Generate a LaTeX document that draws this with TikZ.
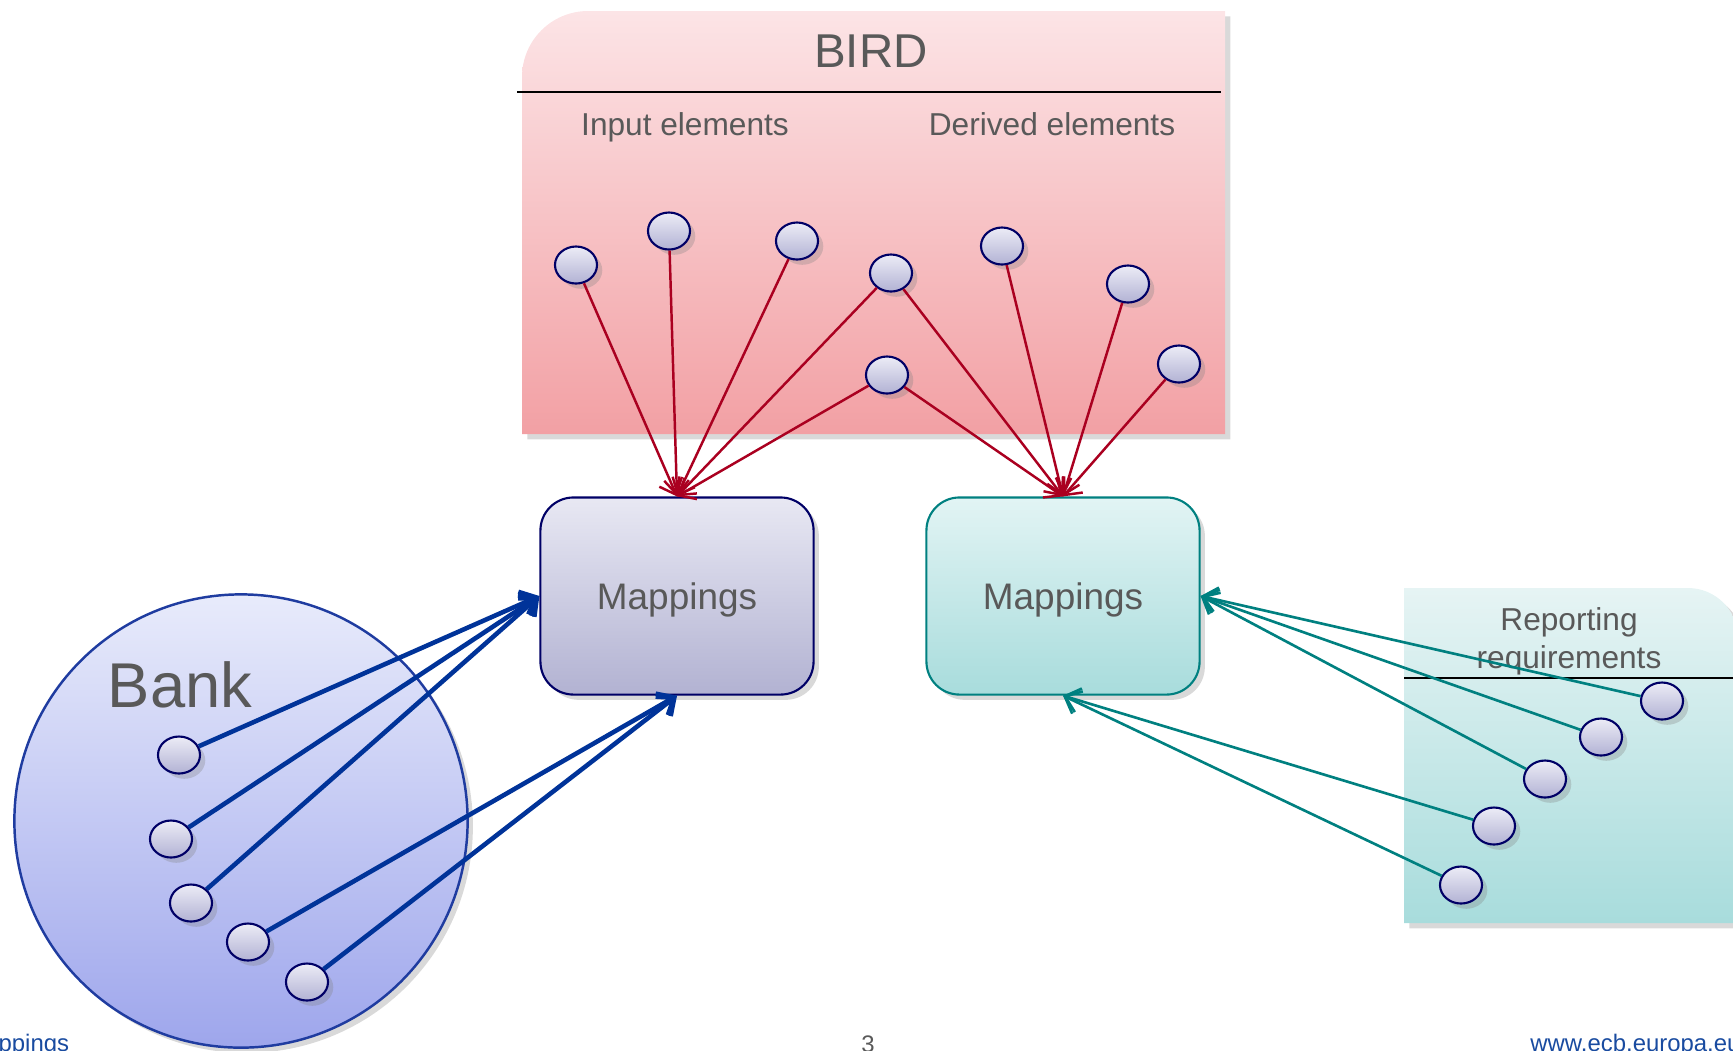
\documentclass[tikz,border=0pt]{standalone}
\usepackage{fontspec}
\setmainfont{Liberation Sans}
\usetikzlibrary{arrows.meta,shadows,shapes.geometric}

\definecolor{navy}{RGB}{0,0,102}
\definecolor{txtgray}{RGB}{89,89,89}
\definecolor{ecbblue}{RGB}{25,75,160}
\definecolor{birdtop}{RGB}{252,228,230}
\definecolor{birdbot}{RGB}{242,160,164}
\definecolor{reptop}{RGB}{230,244,244}
\definecolor{repbot}{RGB}{168,220,220}
\definecolor{elemtop}{RGB}{236,236,246}
\definecolor{elembot}{RGB}{178,178,212}
\definecolor{banktop}{RGB}{232,235,251}
\definecolor{bankbot}{RGB}{158,166,236}
\definecolor{bankline}{RGB}{31,60,160}
\definecolor{redline}{RGB}{170,0,32}
\definecolor{blueline}{RGB}{0,51,153}
\definecolor{tealline}{RGB}{0,128,128}
\definecolor{maptop}{RGB}{232,232,243}
\definecolor{mapbot}{RGB}{178,178,210}
\definecolor{map2top}{RGB}{226,244,244}
\definecolor{map2bot}{RGB}{168,220,220}

\tikzset{
  softshadow/.style={drop shadow={opacity=0.3,shadow xshift=1.5pt,shadow yshift=-1.5pt}},
  elem/.style={ellipse,draw=navy,line width=0.6pt,top color=elemtop,bottom color=elembot,
    minimum width=0.42cm,minimum height=0.37cm,inner sep=0pt,softshadow},
  mapbox/.style={rectangle,rounded corners=0.33cm,line width=0.6pt,minimum width=2.73cm,
    minimum height=1.97cm,text=txtgray,text depth=0pt,font=\fontsize{10.5}{12}\selectfont,softshadow},
  sublabel/.style={text=txtgray,font=\fontsize{9}{10.7}\selectfont},
  footlabel/.style={font=\fontsize{6.8}{8}\selectfont},
  redarrow/.style={draw=redline,line width=0.7pt,-{Straight Barb[length=4pt,width=7pt]}},
  bluearrow/.style={draw=blueline,line width=1.3pt,-{Straight Barb[length=4pt,width=7pt]}},
  tealarrow/.style={draw=tealline,line width=0.75pt,-{Straight Barb[length=4pt,width=7pt]}}
}

\begin{document}
\begin{tikzpicture}[x=0.01cm,y=-0.01cm]

	\useasboundingbox (0,0) rectangle (1733,1050);

	% BIRD box
	\path[softshadow,top color=birdtop,bottom color=birdbot]
	  (522,434) [rounded corners=0.66cm] -- (522,11) [sharp corners] -- (1225,11) -- (1225,434) -- cycle;
	\draw[line width=0.6pt] (517,92) -- (1221,92);
	\node[text=txtgray,font=\fontsize{13.5}{16}\selectfont] (birdtitle) at (871,51) {BIRD};
	\node[sublabel,anchor=base] (inputlabel) at (685,135) {Input elements};
	\node[sublabel,anchor=base] (derivedlabel) at (1052,135) {Derived elements};

	% reporting requirements box
	\path[softshadow,top color=reptop,bottom color=repbot]
	  (1404,923) -- (1404,588) [rounded corners=0.5cm] -- (1738,588) [sharp corners] -- (1738,923) -- cycle;
	\draw[line width=0.6pt] (1404,678) -- (1738,678);
	\node[sublabel,align=center] (replabel) at (1569,641) {Reporting\\requirements};

	% bank
	\node[circle,draw=bankline,line width=0.7pt,top color=banktop,bottom color=bankbot,
	  minimum size=4.53cm,softshadow] (bank) at (241,821) {};
	\node[text=txtgray,font=\fontsize{18}{21}\selectfont] (banklabel) at (180,685) {Bank};

	% mappings
	\node[mapbox,draw=navy,top color=maptop,bottom color=mapbot] (map1) at (677,596) {Mappings};
	\node[mapbox,draw=tealline,top color=map2top,bottom color=map2bot] (map2) at (1063,596) {Mappings};

	% BIRD elements
	\node[elem] (in1) at (576,265) {};
	\node[elem] (in2) at (669,231) {};
	\node[elem] (in3) at (797,241) {};
	\node[elem] (in4) at (891,273) {};
	\node[elem] (in5) at (887,375) {};
	\node[elem] (der1) at (1002,246) {};
	\node[elem] (der2) at (1128,284) {};
	\node[elem] (der3) at (1179,364) {};

	% bank elements
	\node[elem] (bk1) at (179,755) {};
	\node[elem] (bk2) at (171,839) {};
	\node[elem] (bk3) at (191,903) {};
	\node[elem] (bk4) at (248,942) {};
	\node[elem] (bk5) at (307,982) {};

	% reporting elements
	\node[elem] (rep1) at (1662,701) {};
	\node[elem] (rep2) at (1601,737) {};
	\node[elem] (rep3) at (1545,779) {};
	\node[elem] (rep4) at (1494,826) {};
	\node[elem] (rep5) at (1461,885) {};

	% connectors
	\foreach \e in {in1,in2,in3,in4,in5}
	  \draw[redarrow] (\e) -- (map1.north);
	\foreach \e in {in4,in5,der1,der2,der3}
	  \draw[redarrow] (\e) -- (map2.north);

	\foreach \e in {bk1,bk2,bk3}
	  \draw[bluearrow] (\e) -- (map1.west);
	\foreach \e in {bk4,bk5}
	  \draw[bluearrow] (\e) -- (map1.south);

	\foreach \e in {rep1,rep2,rep3}
	  \draw[tealarrow] (\e) -- (map2.east);
	\foreach \e in {rep4,rep5}
	  \draw[tealarrow] (\e) -- (map2.south);

	% footer
	\node[footlabel,text=ecbblue,anchor=base west] (footleft) at (-47,1051) {Mappings};
	\node[footlabel,text=txtgray,anchor=base] (pagenum) at (868,1052) {3};
	\node[footlabel,text=ecbblue,anchor=base west] (footright) at (1518,1051) {www.ecb.europa.eu};

\end{tikzpicture}
\end{document}
